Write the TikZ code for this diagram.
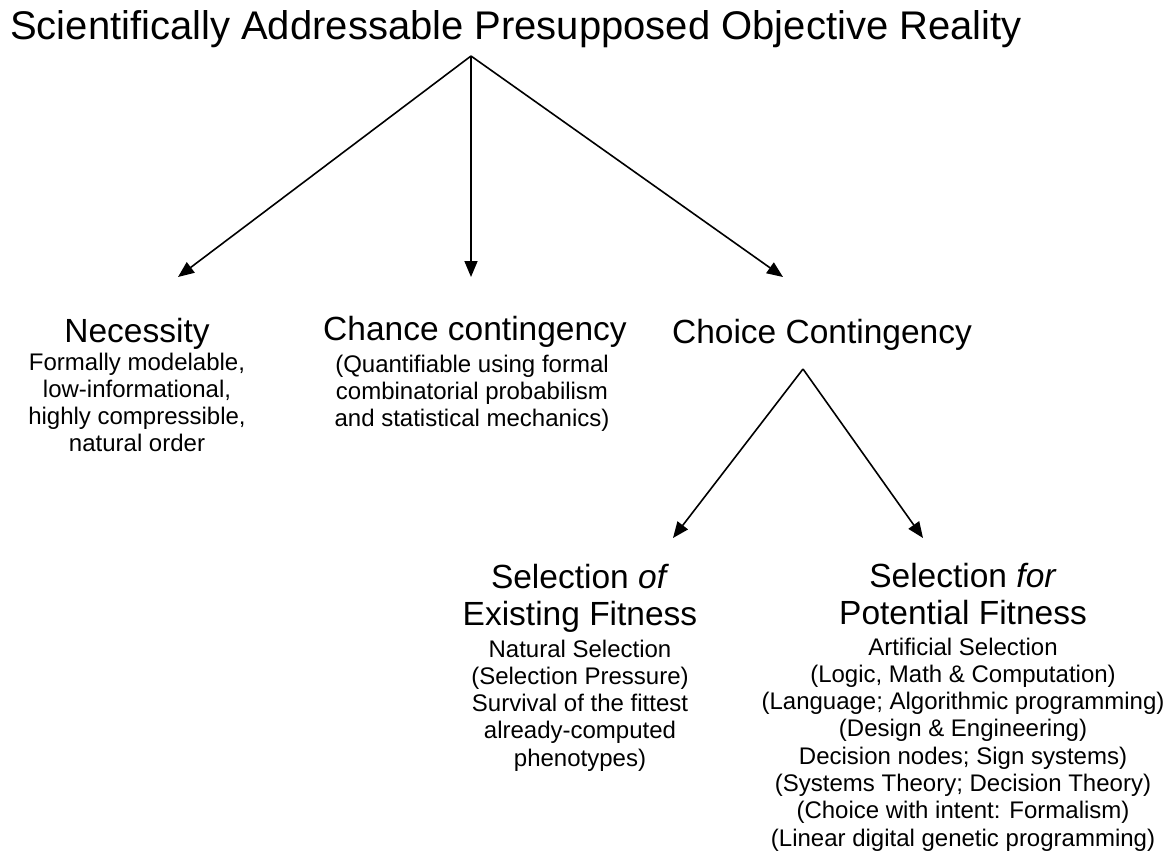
\documentclass[tikz,border=0pt]{standalone}
\usepackage{fontspec}
\setmainfont{Liberation Sans}
\usetikzlibrary{arrows.meta}
\newcommand{\linesc}[1]{\begin{tabular}[t]{@{}c@{}}#1\end{tabular}}
\begin{document}
\begin{tikzpicture}[x=1pt,y=-1pt,
  conn/.style={line width=1.6pt,-{Triangle[length=16pt,width=13pt]}},
  head/.style={anchor=base,inner sep=0pt,font=\fontsize{33.5}{37}\selectfont},
  sub/.style={anchor=base,inner sep=0pt,font=\fontsize{24}{27.3}\selectfont}]
\useasboundingbox (0,0) rectangle (1173,855);
\node[anchor=base west,inner sep=0pt,font=\fontsize{40}{46}\selectfont] (title) at (10,39) {Scientifically Addressable Presupposed Objective Reality};
\coordinate (apex) at (471,56);
\coordinate (t1) at (178,277);
\coordinate (t2) at (471,277);
\coordinate (t3) at (783,277);
\draw[conn] (apex) -- (t1);
\draw[conn] (apex) -- (t2);
\draw[conn] (apex) -- (t3);

\node[head] (nec) at (137,342) {Necessity};
\node[sub] (necsub) at (137,370) {\linesc{Formally modelable,\\low-informational,\\highly compressible,\\natural order}};

\node[head] (chance) at (475,340) {Chance contingency};
\node[sub] (chancesub) at (472,372) {\linesc{(Quantifiable using formal\\combinatorial probabilism\\and statistical mechanics)}};

\node[head] (choice) at (822,343) {Choice Contingency};
\coordinate (apex2) at (803,369);
\coordinate (t4) at (673,538);
\coordinate (t5) at (923,538);
\draw[conn] (apex2) -- (t4);
\draw[conn] (apex2) -- (t5);

\node[head] (selof) at (580,588) {\linesc{Selection \textit{of}\\Existing Fitness}};
\node[sub] (selofsub) at (580,657) {\linesc{Natural Selection\\(Selection Pressure)\\Survival of the fittest\\already-computed\\phenotypes)}};

\node[head] (selfor) at (963,587) {\linesc{Selection \textit{for}\\Potential Fitness}};
\node[sub] (selforsub) at (963,655) {\linesc{Artificial Selection\\(Logic, Math \& Computation)\\(Language; Algorithmic programming)\\(Design \& Engineering)\\Decision nodes; Sign systems)\\(Systems Theory; Decision Theory)\\(Choice with intent: Formalism)\\(Linear digital genetic programming)}};
\end{tikzpicture}
\end{document}
